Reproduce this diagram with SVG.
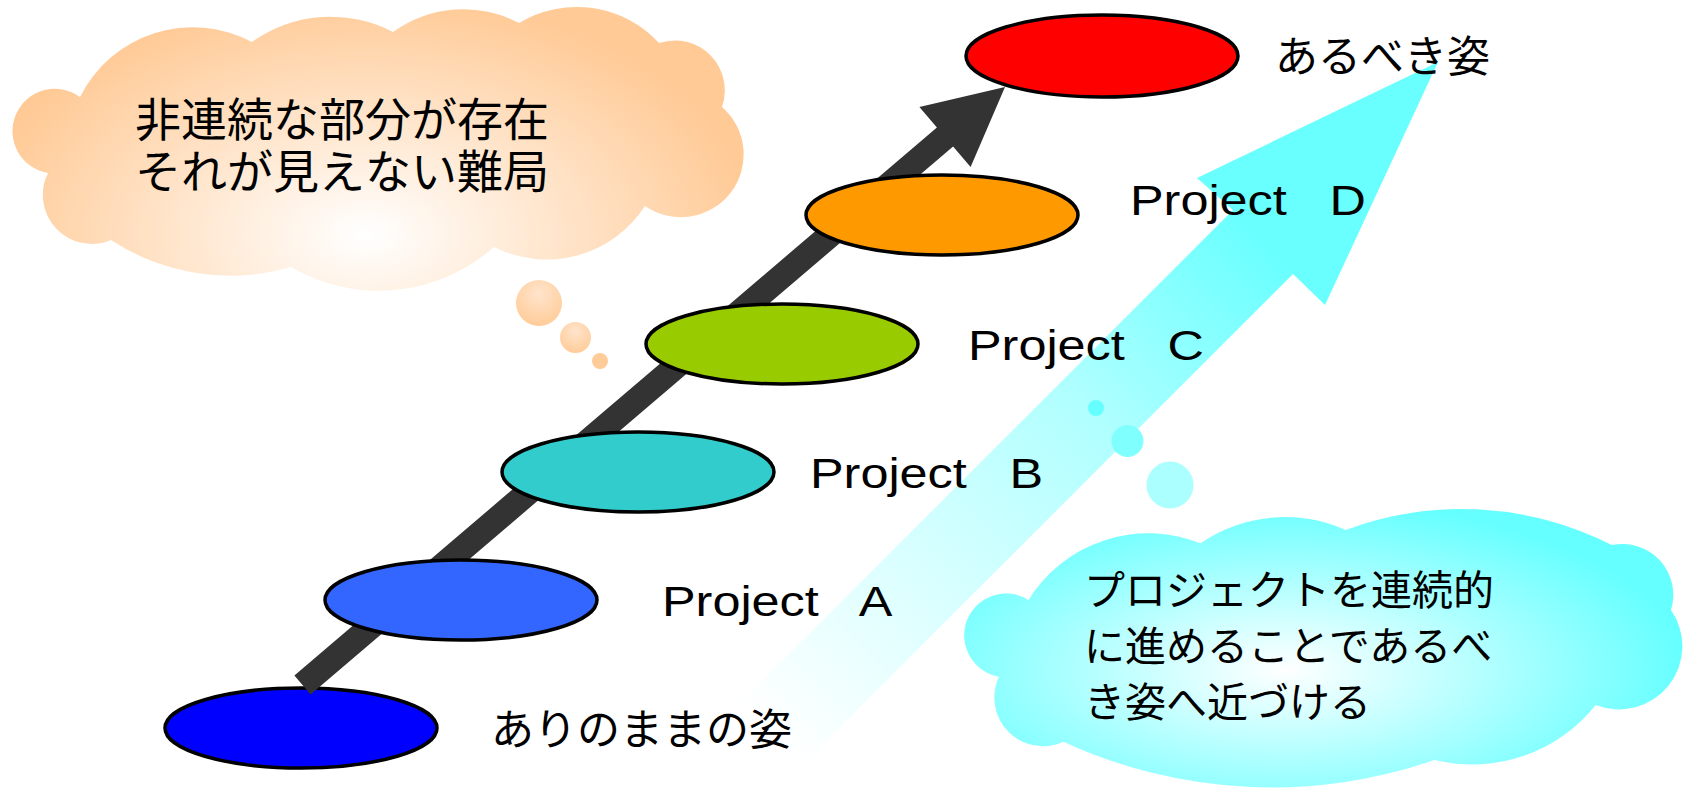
<svg xmlns="http://www.w3.org/2000/svg" width="1686" height="789" viewBox="0 0 1686 789">
  <defs>
    <radialGradient id="gPeach" gradientUnits="userSpaceOnUse" cx="0" cy="0" r="1" gradientTransform="translate(365 235) scale(390 240)">
      <stop offset="0" stop-color="#FFFFFF"/>
      <stop offset="1" stop-color="#FFCA96"/>
    </radialGradient>
    <radialGradient id="gPeachBubble" cx="0.5" cy="0.3" r="0.7">
      <stop offset="0" stop-color="#FFE4CC"/>
      <stop offset="1" stop-color="#FFCC99"/>
    </radialGradient>
    <radialGradient id="gCyan" gradientUnits="userSpaceOnUse" cx="0" cy="0" r="1" gradientTransform="translate(1285 670) scale(400 170)">
      <stop offset="0" stop-color="#FFFFFF"/>
      <stop offset="1" stop-color="#66FFFF"/>
    </radialGradient>
    <linearGradient id="gArrow" gradientUnits="userSpaceOnUse" x1="760" y1="720" x2="1250" y2="230">
      <stop offset="0" stop-color="#FFFFFF"/>
      <stop offset="0.65" stop-color="#B0FFFF"/>
      <stop offset="1" stop-color="#6AFFFF"/>
    </linearGradient>
    <style>
      .step { stroke: #000000; stroke-width: 3.5; }
      .jp { font-family: "Noto Sans CJK JP", "Noto Sans", sans-serif; fill: #000000; }
      .jpt { font-family: "Liberation Sans", "Noto Sans CJK JP", sans-serif; fill: #000000; }
      .lbl { font-family: "Liberation Sans", "Noto Sans CJK JP", sans-serif; font-size: 42px; word-spacing: 24px; fill: #000000; }
    </style>
  </defs>
  <rect x="0" y="0" width="1686" height="789" fill="#FFFFFF"/>

  <!-- peach thought cloud -->
  <g id="cloud-gap">
    <path fill="url(#gPeach)" d="M 80 97 A 126 126 0 0 1 252 42 A 135 135 0 0 1 393 32 A 120 120 0 0 1 519 23 A 112 112 0 0 1 659 43 A 50 50 0 0 1 722 107 A 62.8 62.8 0 0 1 645 206 A 117 117 0 0 1 494 247 A 174 174 0 0 1 291 267 A 217 217 0 0 1 111 240 A 49 49 0 0 1 48 173 A 42.4 42.4 0 1 1 80 97 Z"/>
    <circle cx="539" cy="303" r="23" fill="url(#gPeachBubble)"/>
    <circle cx="575.5" cy="337.5" r="15.5" fill="url(#gPeachBubble)"/>
    <circle cx="600" cy="361" r="8" fill="#FFCC99"/>
    <text class="jpt" font-size="46"><tspan x="135" y="136">非連続な部分が存在</tspan><tspan x="135" y="188">それが見えない難局</tspan></text>
  </g>

  <!-- connectors -->
  <g id="connectors">
    <polygon id="arrow-ideal" fill="url(#gArrow)" points="1438,62 1325,305 1293,274 805,762 743,700 1233,210 1197,178"/>
  </g>

  <!-- cyan thought cloud -->
  <g id="cloud-continuous">
    <path fill="url(#gCyan)" d="M 1028.5 600 A 141 141 0 0 1 1200.5 543.3 A 149 149 0 0 1 1345.7 530 A 331 331 0 0 1 1611.8 545 A 51 51 0 0 1 1671 610 A 63.3 63.3 0 0 1 1595.7 705 A 158 158 0 0 1 1434.4 760 A 497 497 0 0 1 1063.4 741.7 A 48.7 48.7 0 0 1 999 676.7 A 41.9 41.9 0 1 1 1028.5 600 Z"/>
    <circle cx="1096" cy="408" r="8" fill="#66FFFF"/>
    <circle cx="1127.5" cy="441" r="16" fill="#80FFFF"/>
    <circle cx="1170" cy="485" r="23.5" fill="#ABFFFF"/>
    <text class="jp" font-size="41"><tspan x="1084" y="605">プロジェクトを連続的</tspan><tspan x="1084" y="661">に進めることであるべ</tspan><tspan x="1084" y="717">き姿へ近づける</tspan></text>
  </g>

  <g id="node-current">
    <ellipse class="step" cx="301" cy="728" rx="136" ry="40" fill="#0000FF"/>
    <text class="jp" font-size="43" x="491" y="745">ありのままの姿</text>
  </g>

  <g id="connectors-main">
    <polygon id="arrow-path" fill="#333333" points="294.4,675.5 936.9,127.5 919.4,106.9 1005,87 970.6,167.1 953.1,146.5 310.6,694.5"/>
  </g>

  <g id="node-a">
    <ellipse class="step" cx="461" cy="600" rx="136" ry="40" fill="#3366FF"/>
    <text class="lbl" transform="translate(662 616) scale(1.2 1)">Project A</text>
  </g>
  <g id="node-b">
    <ellipse class="step" cx="638" cy="472" rx="136" ry="40" fill="#33CCCC"/>
    <text class="lbl" transform="translate(810 488) scale(1.2 1)">Project B</text>
  </g>
  <g id="node-c">
    <ellipse class="step" cx="782" cy="344" rx="136" ry="40" fill="#99CC00"/>
    <text class="lbl" transform="translate(968 360) scale(1.2 1)">Project C</text>
  </g>
  <g id="node-d">
    <ellipse class="step" cx="942" cy="215" rx="136" ry="40" fill="#FF9900"/>
    <text class="lbl" transform="translate(1130 215) scale(1.2 1)">Project D</text>
  </g>
  <g id="node-goal">
    <ellipse class="step" cx="1102" cy="56" rx="136" ry="41" fill="#FF0000"/>
    <text class="jp" font-size="43" x="1275" y="72">あるべき姿</text>
  </g>
</svg>
